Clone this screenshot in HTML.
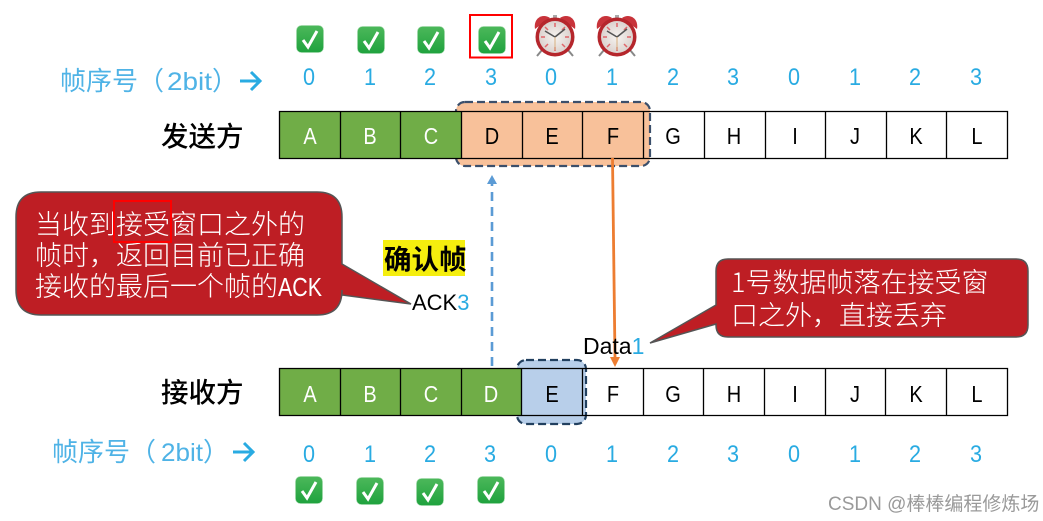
<!DOCTYPE html>
<html><head><meta charset="utf-8"><style>
html,body{margin:0;padding:0;background:#fff;width:1043px;height:521px;overflow:hidden}
svg{display:block}
text{font-family:"Liberation Sans","Noto Sans CJK SC",sans-serif;text-spacing-trim:space-all}
.cj{font-family:"Noto Sans CJK SC","Liberation Sans",sans-serif}
.c{font-size:23px;text-anchor:middle;transform-box:fill-box;transform-origin:center;transform:scaleX(.87)}
.n{font-size:24px;text-anchor:middle;fill:#29abe2;transform-box:fill-box;transform-origin:center;transform:scaleX(.9)}
.w{fill:#fff}
.cw{font-size:27px;fill:#fff;font-family:"Noto Sans CJK SC","Liberation Sans",sans-serif;font-weight:300}
</style></head><body>
<svg width="1043" height="521" viewBox="0 0 1043 521" xmlns="http://www.w3.org/2000/svg">
<defs>
<linearGradient id="g" x1="0" y1="0" x2="0" y2="1"><stop offset="0" stop-color="#4cb85a"/><stop offset="1" stop-color="#1fa23e"/></linearGradient>
<radialGradient id="f" cx=".5" cy=".5" r=".5"><stop offset="0" stop-color="#f6f3f0"/><stop offset="1" stop-color="#dcd3cf"/></radialGradient>
<symbol id="chk" viewBox="0 0 28 28"><rect x=".5" y=".5" width="27" height="27" rx="5" fill="url(#g)" stroke="#9fd8a8" stroke-width=".6"/><path d="M7 15l5 7 9-16" fill="none" stroke="#fff" stroke-width="3"/></symbol>
<symbol id="clk" viewBox="0 0 42 43">
<path d="M8 36l-5 6M34 36l5 6" stroke="#888" stroke-width="2"/>
<path d="M19 1h4v4h-4z" fill="#aaa"/>
<path d="M1 15C-1 4 9-1 16 4z" fill="#c8333a"/><path d="M41 15C43 4 33-1 26 4z" fill="#c8333a"/>
<circle cx="21" cy="23" r="19.5" fill="#b5262c"/><circle cx="21" cy="23" r="16" fill="url(#f)"/>
<g stroke="#e0666a" stroke-width="1.5"><path d="M21 9v4M21 33v4M7 23h4M31 23h4M11 13l3 3M31 13l-3 3M11 33l3-3M31 33l-3-3"/></g>
<path d="M21 23L11 17M21 23L31 15" stroke="#555" stroke-width="1.6"/><path d="M21 23v13" stroke="#d8b080" stroke-width="1"/>
</symbol>
</defs>

<use href="#chk" x="296" y="25" width="28" height="28"/>
<use href="#chk" x="357" y="26" width="28" height="28"/>
<use href="#chk" x="417" y="26" width="28" height="28"/>
<use href="#chk" x="478" y="26" width="28" height="28"/>
<rect x="470" y="15" width="42" height="42.5" fill="none" stroke="#f00" stroke-width="2"/>
<use href="#clk" x="534" y="14" width="42" height="43"/>
<use href="#clk" x="596" y="14" width="42" height="43"/>

<text x="60" y="90" font-size="26" fill="#4fb3e6" class="cj">帧序号（</text>
<text x="167" y="90" font-size="25" fill="#4fb3e6" textLength="45" lengthAdjust="spacingAndGlyphs">2bit</text>
<text x="212" y="90" font-size="26" fill="#4fb3e6" class="cj">）</text>
<path d="M240 81h19M251 72l9 9-9 9" fill="none" stroke="#29abe2" stroke-width="3"/>
<text class="n" x="309" y="85">0</text><text class="n" x="370" y="85">1</text><text class="n" x="430" y="85">2</text><text class="n" x="491" y="85">3</text><text class="n" x="551" y="85">0</text><text class="n" x="612" y="85">1</text><text class="n" x="673" y="85">2</text><text class="n" x="733" y="85">3</text><text class="n" x="794" y="85">0</text><text class="n" x="855" y="85">1</text><text class="n" x="915" y="85">2</text><text class="n" x="976" y="85">3</text>
<text x="161" y="146" font-size="27.5" font-weight="500" fill="#000" class="cj">发送方</text>

<!-- top row -->
<rect x="456" y="102" width="194" height="64" rx="9" fill="#f8c19a" stroke="#3b4f6b" stroke-width="2.2" stroke-dasharray="8 4"/>
<rect x="279.5" y="111.5" width="182" height="47" fill="#70ad47"/>
<g fill="none" stroke="#000" stroke-width="1.3">
<path d="M279.5 111.5H1007.5V158.5H279.5Z"/>
<path d="M340.5 111V159M400.5 111V159M461.5 111V159M522.5 111V159M582.5 111V159M643.5 111V159M704.5 111V159M765.5 111V159M825.5 111V159M886.5 111V159M946.5 111V159"/>
</g>
<text class="c w" x="310" y="144">A</text><text class="c w" x="370" y="144">B</text><text class="c w" x="431" y="144">C</text>
<text class="c" x="492" y="144">D</text><text class="c" x="552" y="144">E</text><text class="c" x="613" y="144">F</text><text class="c" x="673" y="144">G</text><text class="c" x="734" y="144">H</text><text class="c" x="795" y="144">I</text><text class="c" x="855" y="144">J</text><text class="c" x="916" y="144">K</text><text class="c" x="977" y="144">L</text>

<!-- connectors -->
<path d="M492 366V184" stroke="#5b9bd5" stroke-width="2.6" stroke-dasharray="9 6" fill="none"/>
<path d="M492 175l-5 9h10z" fill="#5b9bd5"/>
<path d="M612.5 158L615 358" stroke="#ed7d31" stroke-width="2.8" fill="none"/>
<path d="M615 367l-5-10h10z" fill="#ed7d31"/>

<!-- callout 1 -->
<path d="M41 192H317Q342 192 342 217V264L411 304L342 295V290Q342 315 317 315H41Q16 315 16 290V217Q16 192 41 192Z" fill="#be1e24" stroke="#555" stroke-width="1.5"/>
<text class="cw" x="35" y="234">当收到接受窗口之外的</text>
<text class="cw" x="35" y="265">帧时，返回目前已正确</text>
<text class="cw" x="35" y="296">接收的最后一个帧的</text>
<text x="278" y="296" font-size="26" fill="#fff" textLength="44" lengthAdjust="spacingAndGlyphs">ACK</text>
<rect x="114" y="201" width="57" height="41" fill="none" stroke="#f00" stroke-width="2"/>

<rect x="383" y="240" width="82" height="36" fill="#f5ee0e"/>
<text x="384" y="269" font-size="27.5" font-weight="700" fill="#000" class="cj">确认帧</text>
<text x="412" y="310" font-size="22" fill="#000">ACK<tspan fill="#29abe2">3</tspan></text>

<!-- callout 2 -->
<path d="M728 259H1016Q1028 259 1028 271V325Q1028 337 1016 337H728Q716 337 716 325V324L650 343L716 305V271Q716 259 728 259Z" fill="#be1e24" stroke="#555" stroke-width="1.5"/>
<text class="cw" x="731" y="292">1号数据帧落在接受窗</text>
<text class="cw" x="731" y="325">口之外，直接丢弃</text>
<text x="583" y="354" font-size="23" fill="#000">Data<tspan fill="#29abe2">1</tspan></text>

<!-- bottom row -->
<rect x="517" y="360" width="69" height="64" rx="9" fill="#b8cfea" stroke="#22405f" stroke-width="2.2" stroke-dasharray="8 4"/>
<rect x="279.5" y="368.5" width="242" height="47" fill="#70ad47"/>
<g fill="none" stroke="#000" stroke-width="1.3">
<path d="M279.5 368.5H1007.5V415.5H279.5Z"/>
<path d="M340.5 368V416M400.5 368V416M461.5 368V416M521.5 368V416M582.5 368V416M643.5 368V416M703.5 368V416M764.5 368V416M825.5 368V416M885.5 368V416M946.5 368V416"/>
</g>
<text class="c w" x="310" y="402">A</text><text class="c w" x="370" y="402">B</text><text class="c w" x="431" y="402">C</text><text class="c w" x="491" y="402">D</text>
<text class="c" x="552" y="402">E</text><text class="c" x="613" y="402">F</text><text class="c" x="673" y="402">G</text><text class="c" x="734" y="402">H</text><text class="c" x="795" y="402">I</text><text class="c" x="855" y="402">J</text><text class="c" x="916" y="402">K</text><text class="c" x="977" y="402">L</text>
<text x="161" y="402" font-size="27.5" font-weight="500" fill="#000" class="cj">接收方</text>

<text x="52" y="461" font-size="26" fill="#4fb3e6" class="cj">帧序号（</text>
<text x="161" y="461" font-size="25" fill="#4fb3e6" textLength="42" lengthAdjust="spacingAndGlyphs">2bit</text>
<text x="203" y="461" font-size="26" fill="#4fb3e6" class="cj">）</text>
<path d="M233 452h19M244 443l9 9-9 9" fill="none" stroke="#29abe2" stroke-width="3"/>
<text class="n" x="309" y="462">0</text><text class="n" x="370" y="462">1</text><text class="n" x="430" y="462">2</text><text class="n" x="490" y="462">3</text><text class="n" x="551" y="462">0</text><text class="n" x="612" y="462">1</text><text class="n" x="673" y="462">2</text><text class="n" x="733" y="462">3</text><text class="n" x="794" y="462">0</text><text class="n" x="855" y="462">1</text><text class="n" x="915" y="462">2</text><text class="n" x="976" y="462">3</text>

<use href="#chk" x="295" y="476" width="28" height="28"/>
<use href="#chk" x="356" y="477" width="28" height="28"/>
<use href="#chk" x="416" y="478" width="28" height="28"/>
<use href="#chk" x="477" y="476" width="28" height="28"/>

<text x="828" y="510" font-size="19" fill="#9a9a9a">CSDN @棒棒编程修炼场</text>
</svg>
</body></html>
